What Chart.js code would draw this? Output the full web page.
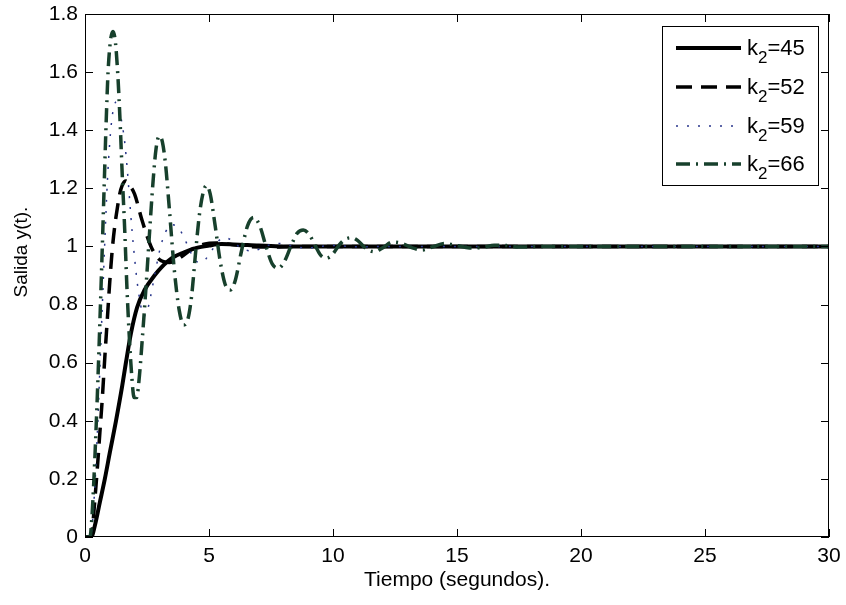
<!DOCTYPE html>
<html>
<head>
<meta charset="utf-8">
<script src="https://cdn.jsdelivr.net/npm/chart.js@4.4.1/dist/chart.umd.min.js"></script>
<style>
  html, body { margin: 0; padding: 0; background: #fff; }
  canvas { display: block; }
</style>
</head>
<body>
<canvas id="chart" width="846" height="605"></canvas>
<script>
// tick values
const xTicks = [0, 5, 10, 15, 20, 25, 30];
const yTicks = [0, 0.2, 0.4, 0.6, 0.8, 1, 1.2, 1.4, 1.6, 1.8];

// legend labels (k2 values)
const gainLabels = ['45', '52', '59', '66'];

// step responses, [t, y]
const k45 = [
    [0, 0], [0.25, 0], [0.4, 0.04], [0.6, 0.12], [0.8, 0.2], [1.0, 0.29], [1.25, 0.4],
    [1.5, 0.52], [1.65, 0.6], [1.85, 0.7], [2.1, 0.79], [2.4, 0.85], [2.8, 0.9],
    [3.1, 0.93], [3.5, 0.96], [4.0, 0.98], [4.5, 0.995], [5.0, 1.003], [5.5, 1.008],
    [6.0, 1.007], [7.0, 1.003], [8.0, 1.0], [30, 1.0]
];
const k52 = [
    [0, 0], [0.25, 0], [0.3, 0.03], [0.4, 0.13], [0.5, 0.24], [0.6, 0.36], [0.7, 0.48],
    [0.8, 0.62], [0.9, 0.75], [1.0, 0.88], [1.1, 0.99], [1.2, 1.07], [1.3, 1.13],
    [1.4, 1.18], [1.5, 1.21], [1.65, 1.225], [1.8, 1.21], [2.0, 1.18], [2.3, 1.09],
    [2.66, 1.0], [3.0, 0.955], [3.4, 0.945], [3.8, 0.96], [4.3, 0.99], [4.8, 1.008],
    [5.3, 1.012], [5.8, 1.008], [6.5, 1.0], [7.5, 0.998], [8.5, 1.0], [30, 1.0]
];
const k59 = [
    [0, 0], [0.22, 0], [0.3, 0.05], [0.4, 0.18], [0.5, 0.36], [0.6, 0.58], [0.7, 0.8],
    [0.8, 1.02], [0.9, 1.22], [1.0, 1.36], [1.1, 1.45], [1.2, 1.49], [1.28, 1.5],
    [1.38, 1.47], [1.5, 1.42], [1.6, 1.36], [1.7, 1.27], [1.8, 1.16], [1.9, 1.05],
    [2.0, 0.96], [2.1, 0.88], [2.2, 0.82], [2.3, 0.775], [2.38, 0.76], [2.5, 0.775],
    [2.65, 0.83], [2.85, 0.92], [3.05, 1.0], [3.25, 1.05], [3.5, 1.075], [3.75, 1.065],
    [4.0, 1.03], [4.2, 0.99], [4.4, 0.958], [4.6, 0.945], [4.85, 0.955], [5.1, 0.985],
    [5.4, 1.02], [5.65, 1.03], [5.9, 1.022], [6.2, 1.0], [6.5, 0.987], [6.8, 0.985],
    [7.1, 0.993], [7.5, 1.007], [7.85, 1.01], [8.2, 1.005], [8.6, 0.997], [9.0, 0.995],
    [9.5, 1.0], [10, 1.003], [11, 0.999], [12, 1.0], [30, 1.0]
];
const k66 = [
    [0, 0], [0.2, 0], [0.28, 0.07], [0.36, 0.2], [0.44, 0.36], [0.52, 0.54], [0.6, 0.74],
    [0.68, 0.95], [0.77, 1.2], [0.85, 1.42], [0.93, 1.6], [1.03, 1.71], [1.13, 1.74],
    [1.23, 1.7], [1.33, 1.58], [1.42, 1.42], [1.5, 1.25], [1.6, 1.06], [1.69, 0.86],
    [1.78, 0.7], [1.88, 0.56], [1.98, 0.48], [2.08, 0.48], [2.2, 0.56], [2.3, 0.67],
    [2.46, 0.86], [2.62, 1.07], [2.75, 1.23], [2.87, 1.34], [3.0, 1.38], [3.12, 1.36],
    [3.25, 1.28], [3.4, 1.13], [3.6, 0.92], [3.8, 0.78], [3.98, 0.73], [4.15, 0.75],
    [4.3, 0.83], [4.45, 0.97], [4.6, 1.1], [4.75, 1.18], [4.9, 1.21], [5.05, 1.18],
    [5.25, 1.07], [5.45, 0.95], [5.65, 0.87], [5.85, 0.85], [6.05, 0.88], [6.3, 0.98],
    [6.55, 1.07], [6.8, 1.1], [7.05, 1.07], [7.3, 1.0], [7.55, 0.94], [7.8, 0.925],
    [8.05, 0.95], [8.3, 1.0], [8.55, 1.045], [8.8, 1.057], [9.05, 1.04], [9.3, 1.0],
    [9.5, 0.97], [9.75, 0.96], [10.0, 0.975], [10.25, 1.005], [10.5, 1.025], [10.75, 1.03],
    [11.0, 1.02], [11.3, 0.995], [11.65, 0.982], [12.0, 0.995], [12.4, 1.015], [12.8, 1.01],
    [13.2, 0.995], [13.6, 0.988], [14.0, 0.998], [14.5, 1.01], [15.0, 1.003], [15.5, 0.995],
    [16.0, 0.996], [16.5, 1.004], [17.0, 1.003], [17.5, 0.998], [18.5, 1.0], [20, 1.0], [30, 1.0]
];

const FONT = 'Liberation Sans, Arial, Helvetica, sans-serif';

const styles = [
    { color: '#000000', width: 4, dash: [] },
    { color: '#000000', width: 3.5, dash: [16, 9] },
    { color: '#28368c', width: 1.5, dash: [2, 9] },
    { color: '#17402c', width: 3.5, dash: [14, 6, 2, 6] },
];

const series = [k45, k52, k59, k66];

// axis box, inner tick marks, titles and legend (matlab look)
const decorPlugin = {
    id: 'decor',
    afterDraw(chart) {
        const { ctx, chartArea: a, scales: { x, y } } = chart;
        ctx.save();
        ctx.strokeStyle = '#000';
        ctx.lineWidth = 1;
        ctx.setLineDash([]);
        ctx.strokeRect(a.left + 0.5, a.top + 0.5, a.right - a.left - 1, a.bottom - a.top - 1);

        const seg = (x1, y1, x2, y2) => {
            ctx.beginPath(); ctx.moveTo(x1, y1); ctx.lineTo(x2, y2); ctx.stroke();
        };
        const TL = 8;
        xTicks.forEach(v => {
            const px = Math.round(x.getPixelForValue(v)) + 0.5;
            seg(px, a.bottom, px, a.bottom - TL);
            seg(px, a.top, px, a.top + TL);
        });
        yTicks.forEach(v => {
            const py = Math.round(y.getPixelForValue(v)) + 0.5;
            seg(a.left, py, a.left + TL, py);
            seg(a.right, py, a.right - TL, py);
        });

        // axis titles
        ctx.fillStyle = '#000';
        ctx.font = '21px ' + FONT;
        ctx.textAlign = 'center';
        ctx.textBaseline = 'middle';
        ctx.fillText('Tiempo (segundos).', (a.left + a.right) / 2, 580);
        ctx.save();
        ctx.translate(22, 252);
        ctx.rotate(-Math.PI / 2);
        ctx.font = '19px ' + FONT;
        ctx.fillText('Salida y(t).', 0, 0);
        ctx.restore();

        // legend box
        const bx = 662, by = 26, bw = 156, bh = 159;
        ctx.fillStyle = '#fff';
        ctx.fillRect(bx, by, bw, bh);
        ctx.strokeRect(bx + 0.5, by + 0.5, bw, bh);
        const rows = [48, 87, 126, 164];
        chart.data.datasets.forEach((ds, i) => {
            const ry = rows[i];
            ctx.strokeStyle = ds.borderColor;
            ctx.lineWidth = ds.borderWidth;
            ctx.setLineDash(ds.borderDash || []);
            seg(676, ry, 741, ry);
            ctx.setLineDash([]);
            ctx.fillStyle = '#000';
            ctx.textAlign = 'left';
            ctx.textBaseline = 'alphabetic';
            ctx.font = '22px ' + FONT;
            const base = ry + 7;
            ctx.fillText('k', 747, base);
            const kw = ctx.measureText('k').width;
            ctx.font = '17px ' + FONT;
            ctx.fillText('2', 747 + kw, base + 8);
            const sw = ctx.measureText('2').width;
            ctx.font = '22px ' + FONT;
            ctx.fillText('=' + gainLabels[i], 747 + kw + sw, base);
        });
        ctx.restore();
    }
};

const ctx = document.getElementById('chart').getContext('2d');
new Chart(ctx, {
    type: 'line',
    data: {
        datasets: series.map((s, i) => ({
            label: 'k2=' + gainLabels[i],
            data: s.map(p => ({ x: p[0], y: p[1] })),
            borderColor: styles[i].color,
            borderWidth: styles[i].width,
            borderDash: styles[i].dash,
            borderCapStyle: 'butt',
            borderJoinStyle: 'round',
            cubicInterpolationMode: 'monotone',
            pointRadius: 0,
            fill: false,
            order: 4 - i,
        }))
    },
    options: {
        responsive: false,
        animation: false,
        layout: { padding: { left: 0, right: 17, top: 14, bottom: 0 } },
        scales: {
            x: {
                type: 'linear',
                min: 0,
                max: 30,
                afterBuildTicks: s => { s.ticks = xTicks.map(v => ({ value: v })); },
                afterFit: s => { s.height = 68; s.paddingLeft = 0; s.paddingRight = 0; },
                ticks: { color: '#000', font: { family: FONT, size: 21 }, padding: 7, maxRotation: 0, autoSkip: false },
                grid: { display: false, drawTicks: false },
                border: { display: false },
            },
            y: {
                type: 'linear',
                min: 0,
                max: 1.8,
                afterBuildTicks: s => { s.ticks = yTicks.map(v => ({ value: v })); },
                afterFit: s => { s.width = 85; s.paddingTop = 0; s.paddingBottom = 0; },
                ticks: {
                    color: '#000', font: { family: FONT, size: 21 }, padding: 7, autoSkip: false,
                    callback: v => String(Math.round(v * 10) / 10)
                },
                grid: { display: false, drawTicks: false },
                border: { display: false },
            }
        },
        plugins: {
            legend: { display: false },
            tooltip: { enabled: false }
        }
    },
    plugins: [decorPlugin]
});
</script>
</body>
</html>
